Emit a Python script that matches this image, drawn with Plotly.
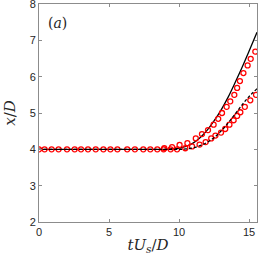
import plotly.graph_objects as go

# Solid black line (simulation 1)
solid_x = [0, 2, 4, 6, 8, 9, 10, 10.5, 11, 11.5, 12, 12.5, 13, 13.5, 14, 14.5, 15, 15.57]
solid_y = [4.0, 4.0, 4.0, 4.0, 4.0, 4.0, 4.03, 4.08, 4.17, 4.32, 4.52, 4.78, 5.08, 5.43, 5.83, 6.25, 6.7, 7.22]

# Dashed black line (simulation 2)
dash_x = [0, 2, 4, 6, 8, 10, 10.5, 11, 11.5, 12, 12.5, 13, 13.5, 14, 14.5, 15, 15.57]
dash_y = [4.0, 4.0, 4.0, 4.0, 4.0, 4.0, 4.01, 4.04, 4.1, 4.19, 4.32, 4.5, 4.72, 4.97, 5.22, 5.45, 5.67]

# Red circles, upper series (experiment 1)
up_x = [0.0, 0.9, 2.0, 3.0, 4.05, 5.1, 6.3, 7.45, 8.45, 8.95, 9.5, 10.04, 10.6, 11.2, 11.64,
        12.07, 12.47, 12.8, 13.07, 13.4, 13.66, 13.95, 14.15, 14.35, 14.6, 14.9, 15.12, 15.45]
up_y = [4.0, 4.0, 4.0, 4.0, 4.0, 4.0, 4.0, 4.0, 4.0, 4.03, 4.06, 4.12, 4.17, 4.3, 4.42,
        4.53, 4.68, 4.84, 5.0, 5.17, 5.32, 5.5, 5.69, 5.88, 6.1, 6.31, 6.49, 6.69]

# Red circles, lower series (experiment 2)
lo_x = [0.4, 1.4, 2.55, 3.5, 4.6, 5.6, 6.85, 7.95, 8.9, 9.4, 9.86, 10.45, 10.93, 11.47, 11.9,
        12.3, 12.6, 13.0, 13.3, 13.6, 13.9, 14.15, 14.38, 14.7, 15.09, 15.5]
lo_y = [4.0, 4.0, 4.0, 4.0, 4.0, 4.0, 4.0, 4.0, 4.0, 4.0, 4.0, 4.03, 4.08, 4.13, 4.2,
        4.3, 4.38, 4.46, 4.56, 4.68, 4.8, 4.92, 5.02, 5.17, 5.35, 5.5]

x_ticks = [0, 5, 10, 15]
y_ticks = [2, 3, 4, 5, 6, 7, 8]

fig = go.Figure()
fig.add_trace(go.Scatter(x=solid_x, y=solid_y, mode="lines",
                         line=dict(color="black", width=1.3, shape="spline"), showlegend=False))
marker = dict(symbol="circle-open", size=5, color="red", line=dict(color="red", width=1.3))
fig.add_trace(go.Scatter(x=up_x, y=up_y, mode="markers", marker=marker, showlegend=False))
fig.add_trace(go.Scatter(x=lo_x, y=lo_y, mode="markers", marker=marker, showlegend=False))
fig.add_trace(go.Scatter(x=dash_x, y=dash_y, mode="lines",
                         line=dict(color="black", width=1.3, dash="3px,2px", shape="spline"),
                         showlegend=False))

axis_common = dict(showgrid=False, zeroline=False, showline=True, linecolor="#8c8c8c", linewidth=1,
                   mirror="allticks", ticks="inside", ticklen=3, tickcolor="#8c8c8c", automargin=False,
                   ticklabeloverflow="allow",
                   tickfont=dict(family="Liberation Sans, Arial", size=11, color="#262626"))

fig.update_layout(
    width=259, height=255,
    margin=dict(l=39, r=2, t=4, b=33),
    paper_bgcolor="white", plot_bgcolor="white",
    xaxis=dict(range=[0, 15.57], tickvals=x_ticks, ticktext=[str(v) for v in x_ticks],
               title=dict(text="<i>tU<sub>s</sub></i>/<i>D</i>", standoff=3,
                          font=dict(family="DejaVu Serif, Liberation Serif", size=15, color="#262626")),
               **axis_common),
    yaxis=dict(range=[2, 8], tickvals=y_ticks, ticktext=[str(v) for v in y_ticks],
               title=dict(text="<i>x</i>/<i>D</i>", standoff=10,
                          font=dict(family="DejaVu Serif, Liberation Serif", size=15, color="#262626")),
               **axis_common),
    annotations=[dict(text="(<i>a</i>)", xref="paper", yref="paper", x=0.03, y=0.96,
                      xanchor="left", yanchor="top", showarrow=False,
                      font=dict(family="DejaVu Serif, Liberation Serif", size=14, color="#262626"))],
)

fig.write_html("out.html", config={"displayModeBar": False},
               post_script="document.body.style.margin='0';document.body.style.overflow='hidden';")
